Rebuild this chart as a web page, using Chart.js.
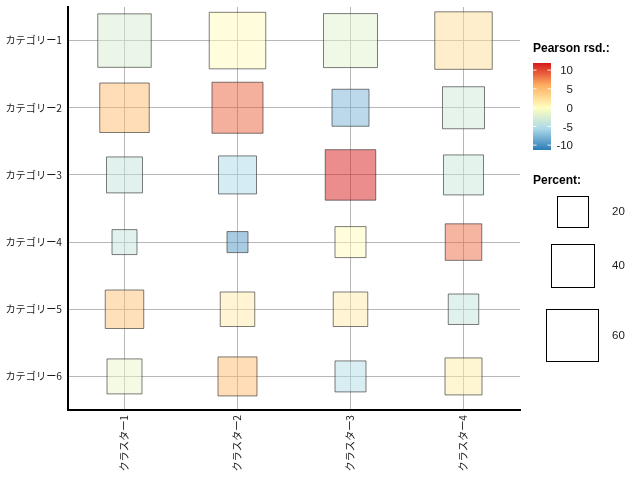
<!DOCTYPE html>
<html>
<head>
<meta charset="utf-8">
<script src="https://cdn.jsdelivr.net/npm/chart.js@4.4.1/dist/chart.umd.min.js"></script>
<style>
  html, body { margin: 0; padding: 0; background: #fff; }
  #wrap { width: 640px; height: 480px; }
</style>
</head>
<body>
<div id="wrap"><canvas id="chart" width="640" height="480"></canvas></div>
<script>
// Kategorien (Zeilen) und Cluster (Spalten)
const categories = ['カテゴリー1', 'カテゴリー2', 'カテゴリー3', 'カテゴリー4', 'カテゴリー5', 'カテゴリー6'];
const clusters = ['クラスター1', 'クラスター2', 'クラスター3', 'クラスター4'];

// Prozent pro Zelle (Zeile = Kategorie)
const percent1 = [62.8, 70.3, 64.0, 72.8];
const percent2 = [53.5, 57.0, 29.2, 38.1];
const percent3 = [27.5, 30.9, 55.8, 34.4];
const percent4 = [12.4, 8.3, 20.0, 28.4];
const percent5 = [31.7, 25.2, 25.2, 19.3];
const percent6 = [25.9, 32.6, 20.0, 29.2];

// Pearson-Residuen pro Zelle
const resid1 = [-2.5, 0.3, -2.0, 2.4];
const resid2 = [5.0, 9.1, -7.9, -3.3];
const resid3 = [-4.2, -5.6, 11.9, -3.6];
const resid4 = [-4.0, -9.6, 0.3, 8.6];
const resid5 = [4.5, 1.4, 1.4, -4.0];
const resid6 = [-1.3, 5.0, -5.1, 1.5];

// Legenden
const colorMin = -11.3, colorMax = 11.9;
const colorTicks = [10, 5, 0, -5, -10];
const sizeKeys = [20, 40, 60];

const percentRows = [percent1, percent2, percent3, percent4, percent5, percent6];
const residRows = [resid1, resid2, resid3, resid4, resid5, resid6];

// RdYlBu (5 Klassen) umgekehrt: blau = negativ, rot = positiv
const negStops = ['#ffffbf', '#abd9e9', '#2c7bb6'];
const posStops = ['#ffffbf', '#fdae61', '#d7191c'];

function hex(h){ return [1,3,5].map(i => parseInt(h.substr(i,2),16)); }

function colorFor(v, alpha){
    const stops = v < 0 ? negStops : posStops;
    const lim = v < 0 ? colorMin : colorMax;
    let t = Math.max(0, Math.min(1, v / lim)) * (stops.length - 1);
    const i = Math.min(Math.floor(t), stops.length - 2);
    const f = t - i;
    const a = hex(stops[i]), b = hex(stops[i+1]);
    const c = a.map((x, k) => Math.round(x + (b[k] - x) * f));
    return `rgba(${c[0]},${c[1]},${c[2]},${alpha})`;
}

// Seitenlänge des Quadrats (Fläche linear zum Prozentwert)
function sideFor(p){ return Math.sqrt(73 + 44.4 * p); }

const points = [];
categories.forEach((cat, r) => {
    clusters.forEach((cl, c) => {
        points.push({ x: cl, y: cat, p: percentRows[r][c], v: residRows[r][c] });
    });
});

const legendFont = '"Liberation Sans", Arial, sans-serif';

const legendPlugin = {
    id: 'sideLegends',
    afterDraw(chart){
        const ctx = chart.ctx;
        ctx.save();
        // Farbskala
        ctx.fillStyle = '#000';
        ctx.font = 'bold 12px ' + legendFont;
        ctx.textAlign = 'left'; ctx.textBaseline = 'middle';
        ctx.fillText('Pearson rsd.:', 533, 49);

        const bx = 533, bw = 18, by = 63, bh = 87;
        for(let y = 0; y < bh; y++){
            const v = colorMax - (y + 0.5) / bh * (colorMax - colorMin);
            ctx.fillStyle = colorFor(v, 1);
            ctx.fillRect(bx, by + y, bw, 1);
        }
        ctx.font = '11.5px ' + legendFont;
        ctx.textAlign = 'right';
        colorTicks.forEach(t => {
            const y = by + (colorMax - t) / (colorMax - colorMin) * bh;
            ctx.strokeStyle = 'rgba(255,255,255,0.9)';
            ctx.lineWidth = 1;
            ctx.beginPath();
            ctx.moveTo(bx, y); ctx.lineTo(bx + 3.5, y);
            ctx.moveTo(bx + bw - 3.5, y); ctx.lineTo(bx + bw, y);
            ctx.stroke();
            ctx.fillStyle = '#1a1a1a';
            ctx.fillText(String(t), 573, y + 1);
        });

        // Größenlegende
        ctx.fillStyle = '#000';
        ctx.font = 'bold 12px ' + legendFont;
        ctx.textAlign = 'left';
        ctx.fillText('Percent:', 533, 181);
        const centers = [211, 265, 335];
        ctx.font = '11.5px ' + legendFont;
        sizeKeys.forEach((k, i) => {
            const s = sideFor(k);
            ctx.strokeStyle = '#000';
            ctx.lineWidth = 1;
            ctx.strokeRect(Math.round(572.5 - s/2) + 0.5, Math.round(centers[i] - s/2) + 0.5, Math.round(s), Math.round(s));
            ctx.fillStyle = '#1a1a1a';
            ctx.fillText(String(k), 612, centers[i] + 1);
        });
        ctx.restore();
    }
};

const gridStyle = { color: 'rgba(170,170,170,0.85)', lineWidth: 1, offset: false, drawTicks: false };
const jpFont = { family: '"Noto Sans CJK JP", sans-serif', size: 10.2 };

function noPad(s){ s.paddingTop = 0; s.paddingBottom = 0; s.paddingLeft = 0; s.paddingRight = 0; }

new Chart(document.getElementById('chart').getContext('2d'), {
    type: 'scatter',
    data: {
        datasets: [{
            data: points,
            pointStyle: 'rect',
            pointRadius: c => c.raw ? sideFor(c.raw.p) / Math.SQRT2 : 0,
            backgroundColor: c => c.raw ? colorFor(c.raw.v, 0.5) : 'transparent',
            borderColor: 'rgba(40,40,40,0.6)',
            borderWidth: 1
        }]
    },
    options: {
        responsive: false,
        animation: false,
        events: [],
        layout: { autoPadding: false, padding: { top: 7, right: 120, bottom: 0, left: 0 } },
        plugins: { legend: { display: false }, tooltip: { enabled: false } },
        scales: {
            x: {
                type: 'category', labels: clusters, offset: true,
                grid: gridStyle,
                border: { color: '#000', width: 2 },
                ticks: { color: '#1a1a1a', font: jpFont, minRotation: 90, maxRotation: 90, padding: 5 },
                afterFit: s => { s.height = 70; noPad(s); }
            },
            y: {
                type: 'category', labels: categories, offset: true,
                grid: gridStyle,
                border: { color: '#000', width: 2 },
                ticks: { color: '#1a1a1a', font: jpFont, padding: 6 },
                afterFit: s => { s.width = 68; noPad(s); }
            }
        }
    },
    plugins: [legendPlugin]
});
</script>
</body>
</html>
